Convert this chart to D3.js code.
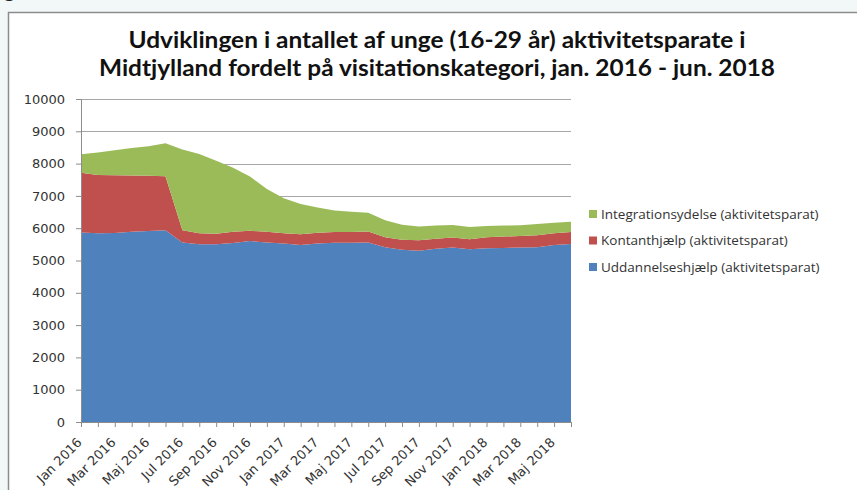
<!DOCTYPE html>
<html>
<head>
<meta charset="utf-8">
<script src="https://cdn.jsdelivr.net/npm/d3@7"></script>
<style>
body { margin: 0; background: #f2f7f7; overflow: hidden; }
.axis path, .axis line { stroke: #8c8c8c; }
.axis text { font-family: "DejaVu Sans", sans-serif; font-size: 13px; fill: #333; }
</style>
</head>
<body>
<div id="chart"></div>
<script>
// data, jan. 2016 - jun. 2018
var months = ["Jan 2016","Feb 2016","Mar 2016","Apr 2016","Maj 2016","Jun 2016",
              "Jul 2016","Aug 2016","Sep 2016","Okt 2016","Nov 2016","Dec 2016",
              "Jan 2017","Feb 2017","Mar 2017","Apr 2017","Maj 2017","Jun 2017",
              "Jul 2017","Aug 2017","Sep 2017","Okt 2017","Nov 2017","Dec 2017",
              "Jan 2018","Feb 2018","Mar 2018","Apr 2018","Maj 2018","Jun 2018"];

var uddannelse = [5870, 5840, 5850, 5890, 5910, 5940, 5560, 5500, 5500, 5540,
                  5600, 5560, 5530, 5480, 5530, 5550, 5550, 5560, 5410, 5330,
                  5300, 5360, 5400, 5350, 5380, 5390, 5400, 5410, 5480, 5510];

var kontant = [1850, 1810, 1790, 1740, 1710, 1670, 380, 340, 330, 350,
               320, 330, 310, 330, 330, 330, 330, 340, 310, 310,
               330, 310, 310, 310, 340, 350, 360, 370, 360, 370];

var integration = [570, 690, 770, 850, 920, 1020, 2500, 2460, 2260, 1980,
                   1680, 1320, 1090, 940, 780, 670, 630, 580, 530, 470,
                   420, 410, 390, 380, 350, 340, 330, 350, 330, 320];

var seriesNames = ["Uddannelseshjælp (aktivitetsparat)",
                   "Kontanthjælp (aktivitetsparat)",
                   "Integrationsydelse (aktivitetsparat)"];
var seriesColors = ["#4f81bd", "#c0504d", "#9bbb59"];
var yTicks = d3.range(0, 10001, 1000);

var titleLines = ["Udviklingen i antallet af unge (16-29 år) aktivitetsparate i",
                  "Midtjylland fordelt på visitationskategori, jan. 2016 - jun. 2018"];
var titleWidths = [617, 676];

var width = 857, height = 490;
var plotLeft = 81, plotRight = 571, plotTop = 99, plotBottom = 422;

var svg = d3.select('#chart').append('svg')
    .attr('width', width).attr('height', height);

// cut off heading above the chart box
svg.append('text').attr('x', 4).attr('y', -3)
    .style('font-family', 'Lato, sans-serif').style('font-size', '20px').style('font-weight', 'bold')
    .attr('fill', '#222').text('g');

// chart box
svg.append('rect').attr('x', 8.5).attr('y', 12.5).attr('width', 900).attr('height', 500)
    .attr('fill', '#fff').attr('stroke', '#8c8c8c').attr('stroke-width', 1.5);

svg.selectAll('.title').data(titleLines).enter().append('text')
    .attr('class', 'title')
    .attr('x', 437).attr('y', function(d, i) { return 48 + i * 28; })
    .attr('text-anchor', 'middle')
    .attr('textLength', function(d, i) { return titleWidths[i]; })
    .attr('lengthAdjust', 'spacingAndGlyphs')
    .style('font-family', 'Lato, sans-serif').style('font-size', '22px').style('font-weight', 'bold')
    .attr('fill', '#111')
    .text(function(d) { return d; });

var xScale = d3.scalePoint().domain(months).range([plotLeft, plotRight]);
var yScale = d3.scaleLinear().domain([0, 10000]).range([plotBottom, plotTop]);

// gridlines
svg.append('g').selectAll('line').data(yTicks.slice(1)).enter().append('line')
    .attr('x1', plotLeft).attr('x2', plotRight)
    .attr('y1', function(d) { return Math.round(yScale(d)) + 0.5; })
    .attr('y2', function(d) { return Math.round(yScale(d)) + 0.5; })
    .attr('stroke', '#a6a6a6').attr('stroke-width', 1);

var table = months.map(function(m, i) {
    return { month: m, u: uddannelse[i], k: kontant[i], g: integration[i] };
});
var stack = d3.stack().keys(['u', 'k', 'g']);
var layers = stack(table);

var area = d3.area()
    .x(function(d) { return xScale(d.data.month); })
    .y0(function(d) { return yScale(d[0]); })
    .y1(function(d) { return yScale(d[1]); });

svg.append('g').selectAll('path').data(layers).enter().append('path')
    .attr('d', area)
    .attr('fill', function(d, i) { return seriesColors[i]; });

var yAxis = d3.axisLeft(yScale).tickValues(yTicks).tickSize(5).tickPadding(11)
    .tickFormat(d3.format('d'));
svg.append('g').attr('class', 'axis')
    .attr('transform', 'translate(' + plotLeft + ',0)')
    .call(yAxis);

var xAxis = d3.axisBottom(xScale).tickSize(5).tickSizeOuter(0)
    .tickFormat(function(d, i) { return i % 2 == 0 ? d : ''; });
svg.append('g').attr('class', 'axis')
    .attr('transform', 'translate(0,' + plotBottom + ')')
    .call(xAxis)
    .selectAll('text')
    .attr('x', 0).attr('y', 0).attr('dy', '0.35em')
    .style('text-anchor', 'end')
    .attr('transform', 'translate(-2,18) rotate(-45)');

// legend, green on top like the stack
var legend = svg.append('g').selectAll('g').data([2, 1, 0]).enter().append('g')
    .attr('transform', function(d, i) { return 'translate(589,' + (214 + i * 26.5) + ')'; });
legend.append('rect').attr('x', 0).attr('y', -4).attr('width', 8).attr('height', 8)
    .attr('fill', function(d) { return seriesColors[d]; });
legend.append('text').attr('x', 12).attr('y', 0).attr('dy', '0.35em')
    .style('font-family', '"Open Sans", sans-serif').style('font-size', '13.5px')
    .attr('fill', '#333')
    .text(function(d) { return seriesNames[d]; });
</script>
</body>
</html>
